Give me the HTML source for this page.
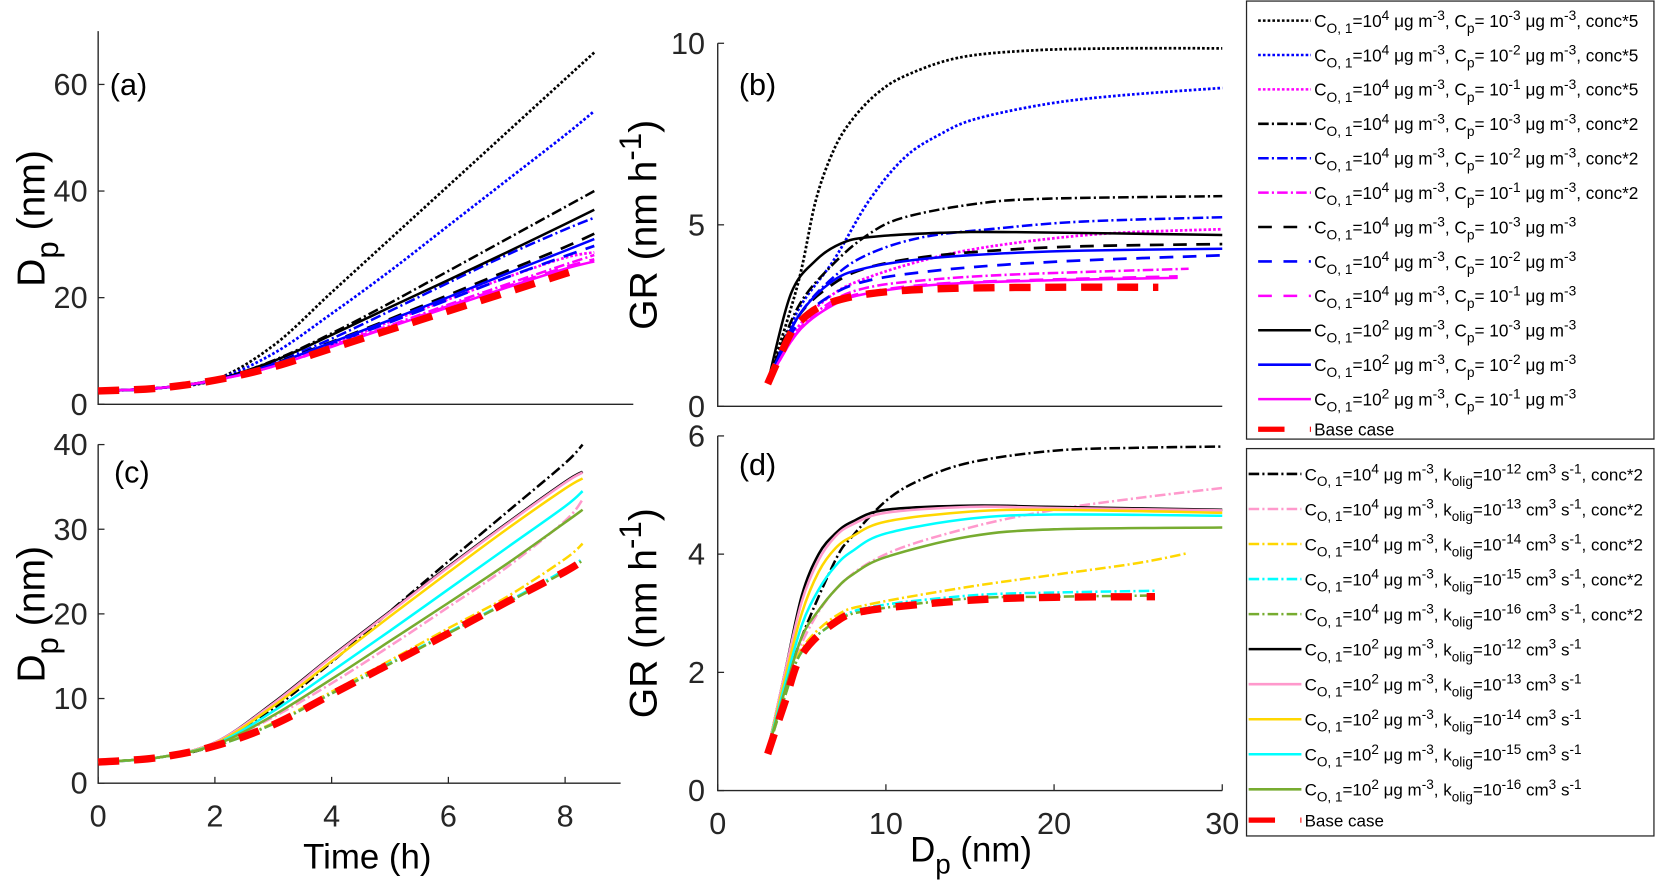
<!DOCTYPE html>
<html><head><meta charset="utf-8"><style>
html,body{margin:0;padding:0;background:#fff;}
svg{display:block;font-family:"Liberation Sans",sans-serif;}
</style></head><body>
<svg id="fig" width="1655" height="888" viewBox="0 0 1568 841.3" preserveAspectRatio="none" xmlns="http://www.w3.org/2000/svg"></svg>
<script>
// ---------- DATA ----------
// Panel (a): time (h) vs Dp (nm)
const tA = [0,1,2,3,4,5,6,7,8,8.5];
const aBlackDot = [2.5,3,4.6,11,21,31,41,51,61,66];
const aBlueDot = [2.5,3,4.6,9.5,17,25,33.5,42,50.5,55];
const aBlackDD = [2.5,3,4.5,8.2,13.3,19,25,31,37,40];
const aBlueDD = [2.5,3,4.5,7.8,12.3,17.5,22.8,28,32.8,35];
const aMagDot = [2.5,3,4.5,7.4,11.3,15.5,19.7,23.8,27.5,28.5];
const aBlackDash = [2.5,3,4.5,7.6,11.7,16,20.5,25,29.5,32];
const aBlueDash = [2.5,3,4.5,7.4,11.3,15.4,19.6,23.8,27.8,29.7];
const aMagDD = [2.5,3,4.5,7.2,11,14.8,18.7,22.5,26.2,28];
const aMagDash = [2.5,3,4.5,7.1,10.8,14.6,18.4,22.1,25.7,27.2];
const aBlackSol = [2.5,3,4.6,8.1,13,18.2,23.3,28.5,33.8,36.5];
const aBlueSol = [2.5,3,4.5,7.5,11.6,15.8,20.1,24.5,28.8,31];
const aMagSol = [2.5,3,4.5,7.1,10.8,14.5,18.2,21.9,25.4,26.8];
const tBase = [0,1,2,3,4,5,6,7,8,8.3];
const aBase = [2.5,3,4.5,7,10.5,14,17.5,21,24.5,25.5];

// Panel (b): Dp (nm) vs GR (nm/h)
const bBlackDotX=[3,4.77,5.83,6.89,7.95,9.43,11.13,14.3,18.55,23.85,30];
const bBlackDotY=[0.7,3.38,5.67,7.05,7.87,8.6,9.1,9.6,9.8,9.86,9.86];
const bBlueDotX=[3,4.77,6.89,9,11.13,13.25,15.37,19.6,23.85,30];
const bBlueDotY=[0.7,2.64,4.02,5.67,6.86,7.5,7.92,8.33,8.56,8.77];
const bBlackDDX=[3,4.77,6.89,9,11.13,15.37,19.6,30];
const bBlackDDY=[0.7,2.73,3.93,4.75,5.21,5.58,5.72,5.79];
const bBlackSolX=[3,4.35,5.83,7.31,9,13.25,17.5,30];
const bBlackSolY=[0.7,3.1,4.02,4.48,4.66,4.78,4.8,4.72];
const bBlueDDX=[3,4.77,6.89,9,12.2,16.4,21.7,30];
const bBlueDDY=[0.7,2.46,3.56,4.2,4.66,4.89,5.09,5.21];
const bMagDotX=[3,4.77,6.89,9,12.2,15.37,19.6,23.85,30];
const bMagDotY=[0.7,2.18,3.1,3.56,4.02,4.34,4.61,4.78,4.88];
const bBlackDashX=[3,4.77,6.89,9,12.2,16.4,21.7,30];
const bBlackDashY=[0.7,2.46,3.38,3.83,4.11,4.29,4.41,4.47];
const bBlueSolX=[3,4.77,6.89,9,12.2,16.4,21.7,30];
const bBlueSolY=[0.7,2.46,3.47,3.83,4.06,4.2,4.29,4.34];
const bBlueDashX=[3,4.77,6.89,9,12.2,16.4,21.7,30];
const bBlueDashY=[0.7,2.28,3.1,3.47,3.7,3.88,4.02,4.16];
const bMagDDX=[3,4.77,6.89,9,12.2,17.5,28];
const bMagDDY=[0.7,2.09,2.92,3.28,3.47,3.63,3.79];
const bMagDashX=[3,4.77,6.89,9,13.25,19.6,27.35];
const bMagDashY=[0.7,2.05,2.83,3.15,3.38,3.49,3.58];
const bMagSolX=[3,4.77,6.89,9,13.25,19.6,27.35];
const bMagSolY=[0.7,2.05,2.8,3.12,3.36,3.47,3.54];
const bBaseX=[2.97,4.13,4.77,6.25,9,13.25,19.6,26.2];
const bBaseY=[0.62,1.82,2.28,2.78,3.1,3.24,3.28,3.28];

// Panel (c): time (h) vs Dp (nm)
const tC=[0,1,2,3,4,5,6,7,8,8.3];
const cBlackDD=[2.5,3,4.5,8.8,14.3,20.3,26.2,32,37.8,40];
const cPinkDD=[2.5,3,4.5,7.8,11.8,16.2,20.8,25.5,31,33.5];
const cYellowDD=[2.5,3,4.4,7.1,10.8,14.5,18.3,22,26.5,28.3];
const cCyanDD=[2.5,3,4.4,7,10.6,14.2,17.8,21.4,25.2,26.5];
const cGreenDD=[2.5,3,4.4,7,10.6,14.1,17.7,21.3,25,26.3];
const cBlackSol=[2.5,3,4.8,9.5,15,20.3,25.6,30.7,35.6,36.8];
const cPinkSol=[2.5,3,4.8,9.4,14.9,20.2,25.5,30.6,35.5,36.7];
const cYellowSol=[2.5,3,4.7,9.1,14.4,19.7,24.9,30,34.8,36];
const cCyanSol=[2.5,3,4.6,8.5,13.2,18,22.9,27.8,32.7,34.5];
const cGreenSol=[2.5,3,4.5,8.0,12.3,16.8,21.3,25.9,30.8,32.3];
const cBase=[2.5,3,4.4,6.9,10.5,14.1,17.7,21.4,25,26.3];

// Panel (d): Dp vs GR
const dBlackDDX=[3,4,5,7,8,10,12,15,20,25,30];
const dBlackDDY=[0.7,1.7,2.6,3.9,4.3,4.9,5.25,5.55,5.75,5.8,5.82];
const dPinkDDX=[3,4,5,7,10,15,20,25,30];
const dPinkDDY=[0.7,1.6,2.5,3.4,4.0,4.45,4.75,4.95,5.12];
const dYellowDDX=[3,4,5,7,9,15,20,25,28];
const dYellowDDY=[0.7,1.6,2.4,2.95,3.15,3.45,3.65,3.85,4.02];
const dCyanDDX=[3,4,5,7,9,15,20,26];
const dCyanDDY=[0.7,1.6,2.35,2.85,3.1,3.3,3.35,3.38];
const dGreenDDX=[3,4,5,7,9,15,20,26];
const dGreenDDY=[0.7,1.6,2.35,2.85,3.05,3.25,3.28,3.3];
const dBlackSolX=[3,4,5,6,7,8,10,15,20,30];
const dBlackSolY=[0.7,2.0,3.3,4.0,4.35,4.55,4.75,4.82,4.8,4.75];
const dPinkSolX=[3,4,5,6,7,8,10,15,20,30];
const dPinkSolY=[0.7,2.0,3.2,3.9,4.3,4.5,4.7,4.8,4.78,4.74];
const dYellowSolX=[3,4,5,6,7,8,10,15,20,30];
const dYellowSolY=[0.7,1.9,3.0,3.7,4.1,4.3,4.55,4.72,4.75,4.7];
const dCyanSolX=[3,4,5,6,7,8,10,15,20,30];
const dCyanSolY=[0.7,1.8,2.8,3.4,3.8,4.05,4.35,4.6,4.67,4.65];
const dGreenSolX=[3,4,5,6,7,8,10,15,20,30];
const dGreenSolY=[0.7,1.7,2.6,3.05,3.4,3.65,3.95,4.3,4.42,4.45];
const dBaseX=[2.97,4,5,7,9,15,20,26];
const dBaseY=[0.62,1.5,2.3,2.85,3.05,3.22,3.27,3.28];

const aTicks=[0,20,40,60], bTicks=[0,5,10], cTicksY=[0,10,20,30,40], cTicksX=[0,2,4,6,8], dTicksY=[0,2,4,6], dTicksX=[0,10,20,30];

// ---------- DRAW ----------
const NS='http://www.w3.org/2000/svg';
const svg=document.getElementById('fig');
function el(tag,attrs,parent){const e=document.createElementNS(NS,tag);for(const k in attrs)e.setAttribute(k,attrs[k]);(parent||svg).appendChild(e);return e;}
function scale(d0,d1,p0,p1){return v=>p0+(v-d0)*(p1-p0)/(d1-d0);}
function smooth(pts){
  let d='M'+pts[0][0].toFixed(2)+','+pts[0][1].toFixed(2);
  for(let i=0;i<pts.length-1;i++){
    const p0=pts[Math.max(i-1,0)],p1=pts[i],p2=pts[i+1],p3=pts[Math.min(i+2,pts.length-1)];
    const c1=[p1[0]+(p2[0]-p0[0])/6,p1[1]+(p2[1]-p0[1])/6];
    const c2=[p2[0]-(p3[0]-p1[0])/6,p2[1]-(p3[1]-p1[1])/6];
    d+=' C'+c1[0].toFixed(2)+','+c1[1].toFixed(2)+' '+c2[0].toFixed(2)+','+c2[1].toFixed(2)+' '+p2[0].toFixed(2)+','+p2[1].toFixed(2);
  }
  return d;
}
const STY={
 dot:{w:2.6,da:'2.5,2'}, dd:{w:2.4,da:'10,3,2,3'}, dash:{w:2.6,da:'13,9'}, sol:{w:2.4,da:''}, base:{w:7,da:'20,14'}
};
function series(g,xs,ys,sx,sy,color,sty,name){
  const pts=xs.map((x,i)=>[sx(x),sy(ys[i])]);
  const p=el('path',{d:smooth(pts),fill:'none',stroke:color,'stroke-width':STY[sty].w,'stroke-dasharray':STY[sty].da},g);
  
  
}
function axes(g,x0,x1,y0,y1,yt,sy,xt,sx,ylabRight,xlabY,nameP){
  const ax=el('path',{d:`M${x0},${y1} L${x0},${y0} L${x1},${y0}`,fill:'none',stroke:'#262626','stroke-width':1.3},g);
  
  
  yt.forEach(v=>{
    el('line',{x1:x0,x2:x0+6,y1:sy(v),y2:sy(v),stroke:'#262626','stroke-width':1.2},g);
    const t=el('text',{x:ylabRight,y:sy(v)+10,'text-anchor':'end','font-size':29,fill:'#262626'},g);
    t.textContent=v;
    
    
  });
  if(xt){xt.forEach(v=>{
    el('line',{x1:sx(v),x2:sx(v),y1:y0,y2:y0-6,stroke:'#262626','stroke-width':1.2},g);
    const t=el('text',{x:sx(v),y:xlabY,'text-anchor':'middle','font-size':29,fill:'#262626'},g);
    t.textContent=v;
    
    
  });}
}
// Panel a
const gA=el('g',{});
const axA=scale(0,1,93,148.3), ayA=scale(0,20,383,282);
axes(gA,93,600,383,29.5,aTicks,ayA,null,null,83,0,'panel-a');
[[tA,aBlackDot,'#000','dot'],[tA,aBlueDot,'#00f','dot'],[tA,aBlackDD,'#000','dd'],[tA,aBlueDD,'#00f','dd'],[tA,aMagDot,'#f0f','dot'],[tA,aBlackDash,'#000','dash'],[tA,aBlueDash,'#00f','dash'],[tA,aMagDD,'#f0f','dd'],[tA,aMagDash,'#f0f','dash'],[tA,aBlackSol,'#000','sol'],[tA,aBlueSol,'#00f','sol'],[tA,aMagSol,'#f0f','sol'],[tBase,aBase,'#f00','base']]
.forEach((s,i)=>series(gA,s[0],s[1],axA,ayA,s[2],s[3],'a-series-'+i));
// Panel b
const gB=el('g',{});
const axB=scale(0,30,680,1158), ayB=scale(0,10,385,41);
axes(gB,680,1158,385,41,bTicks,ayB,null,null,668,0,'panel-b');
[[bBlackDotX,bBlackDotY,'#000','dot'],[bBlueDotX,bBlueDotY,'#00f','dot'],[bMagDotX,bMagDotY,'#f0f','dot'],[bBlackDDX,bBlackDDY,'#000','dd'],[bBlueDDX,bBlueDDY,'#00f','dd'],[bMagDDX,bMagDDY,'#f0f','dd'],[bBlackDashX,bBlackDashY,'#000','dash'],[bBlueDashX,bBlueDashY,'#00f','dash'],[bMagDashX,bMagDashY,'#f0f','dash'],[bBlackSolX,bBlackSolY,'#000','sol'],[bBlueSolX,bBlueSolY,'#00f','sol'],[bMagSolX,bMagSolY,'#f0f','sol'],[bBaseX,bBaseY,'#f00','base']]
.forEach((s,i)=>series(gB,s[0],s[1],axB,ayB,s[2],s[3],'b-series-'+i));
// Panel c
const gC=el('g',{});
const axC=scale(0,1,93,148.3), ayC=scale(0,10,742,661.8);
axes(gC,93,588,742,421,cTicksY,ayC,cTicksX,axC,83,783,'panel-c');
const PINK='#ff99cc',YEL='#ffd700',CY='#00ffff',GR='#77ac30';
[[cBlackDD,'#000','dd'],[cPinkDD,PINK,'dd'],[cYellowDD,YEL,'dd'],[cCyanDD,CY,'dd'],[cGreenDD,GR,'dd'],[cBlackSol,'#000','sol'],[cPinkSol,PINK,'sol'],[cYellowSol,YEL,'sol'],[cCyanSol,CY,'sol'],[cGreenSol,GR,'sol'],[cBase,'#f00','base']]
.forEach((s,i)=>series(gC,tC,s[0],axC,ayC,s[1],s[2],'c-series-'+i));
// Panel d
const gD=el('g',{});
const axD=scale(0,30,680,1158), ayD=scale(0,6,749,413);
axes(gD,680,1158,749,413,dTicksY,ayD,dTicksX,axD,668,790,'panel-d');
[[dBlackDDX,dBlackDDY,'#000','dd'],[dPinkDDX,dPinkDDY,PINK,'dd'],[dYellowDDX,dYellowDDY,YEL,'dd'],[dCyanDDX,dCyanDDY,CY,'dd'],[dGreenDDX,dGreenDDY,GR,'dd'],[dBlackSolX,dBlackSolY,'#000','sol'],[dPinkSolX,dPinkSolY,PINK,'sol'],[dYellowSolX,dYellowSolY,YEL,'sol'],[dCyanSolX,dCyanSolY,CY,'sol'],[dGreenSolX,dGreenSolY,GR,'sol'],[dBaseX,dBaseY,'#f00','base']]
.forEach((s,i)=>series(gD,s[0],s[1],axD,ayD,s[2],s[3],'d-series-'+i));

// rich text: _{sub} ^{sup}
function rich(parent,x,y,str,size,anchor,name,rot){
  const t=el('text',{x:x,y:y,'font-size':size,fill:'#000','text-anchor':anchor||'start'},parent);
  if(rot)t.setAttribute('transform',rot);
  
  
  const re=/([_^])\{([^}]*)\}|([^_^]+)/g;let m,shift=0;
  while((m=re.exec(str))){
    const ts=el('tspan',{},t);
    if(m[1]){const dy=m[1]==='_'?size*0.35:-size*0.4;ts.setAttribute('dy',dy-shift);shift=dy;ts.setAttribute('font-size',size*0.8);ts.textContent=m[2];}
    else{ts.setAttribute('dy',-shift);shift=0;ts.textContent=m[3];}
  }
  return t;
}
// panel letters & axis labels
rich(svg,104,90,'(a)',29,'start','panel-a-label');
rich(svg,700,90,'(b)',29,'start','panel-b-label');
rich(svg,108,457,'(c)',29,'start','panel-c-label');
rich(svg,700,450,'(d)',29,'start','panel-d-label');
rich(svg,0,0,'D_{p} (nm)',37,'middle','panel-a-y-title','translate(42,207) rotate(-90)');
rich(svg,0,0,'D_{p} (nm)',37,'middle','panel-c-y-title','translate(42,582) rotate(-90)');
rich(svg,0,0,'GR (nm h^{-1})',37,'middle','panel-b-y-title','translate(622,213) rotate(-90)');
rich(svg,0,0,'GR (nm h^{-1})',37,'middle','panel-d-y-title','translate(622,581) rotate(-90)');
rich(svg,348,823,'Time (h)',33,'middle','x-axis-title-time');
rich(svg,920,816,'D_{p} (nm)',33,'middle','x-axis-title-dp');

// legends
const leg1Labels=[
 'C_{O, 1}=10^{4} μg m^{-3}, C_{p}= 10^{-3} μg m^{-3}, conc*5',
 'C_{O, 1}=10^{4} μg m^{-3}, C_{p}= 10^{-2} μg m^{-3}, conc*5',
 'C_{O, 1}=10^{4} μg m^{-3}, C_{p}= 10^{-1} μg m^{-3}, conc*5',
 'C_{O, 1}=10^{4} μg m^{-3}, C_{p}= 10^{-3} μg m^{-3}, conc*2',
 'C_{O, 1}=10^{4} μg m^{-3}, C_{p}= 10^{-2} μg m^{-3}, conc*2',
 'C_{O, 1}=10^{4} μg m^{-3}, C_{p}= 10^{-1} μg m^{-3}, conc*2',
 'C_{O, 1}=10^{4} μg m^{-3}, C_{p}= 10^{-3} μg m^{-3}',
 'C_{O, 1}=10^{4} μg m^{-3}, C_{p}= 10^{-2} μg m^{-3}',
 'C_{O, 1}=10^{4} μg m^{-3}, C_{p}= 10^{-1} μg m^{-3}',
 'C_{O, 1}=10^{2} μg m^{-3}, C_{p}= 10^{-3} μg m^{-3}',
 'C_{O, 1}=10^{2} μg m^{-3}, C_{p}= 10^{-2} μg m^{-3}',
 'C_{O, 1}=10^{2} μg m^{-3}, C_{p}= 10^{-1} μg m^{-3}',
 'Base case'];
const leg1Styles=[['#000','dot'],['#00f','dot'],['#f0f','dot'],['#000','dd'],['#00f','dd'],['#f0f','dd'],['#000','dash'],['#00f','dash'],['#f0f','dash'],['#000','sol'],['#00f','sol'],['#f0f','sol'],['#f00','base']];
const leg2Labels=[
 'C_{O, 1}=10^{4} μg m^{-3}, k_{olig}=10^{-12} cm^{3} s^{-1}, conc*2',
 'C_{O, 1}=10^{4} μg m^{-3}, k_{olig}=10^{-13} cm^{3} s^{-1}, conc*2',
 'C_{O, 1}=10^{4} μg m^{-3}, k_{olig}=10^{-14} cm^{3} s^{-1}, conc*2',
 'C_{O, 1}=10^{4} μg m^{-3}, k_{olig}=10^{-15} cm^{3} s^{-1}, conc*2',
 'C_{O, 1}=10^{4} μg m^{-3}, k_{olig}=10^{-16} cm^{3} s^{-1}, conc*2',
 'C_{O, 1}=10^{2} μg m^{-3},  k_{olig}=10^{-12} cm^{3} s^{-1}',
 'C_{O, 1}=10^{2} μg m^{-3},  k_{olig}=10^{-13} cm^{3} s^{-1}',
 'C_{O, 1}=10^{2} μg m^{-3},  k_{olig}=10^{-14} cm^{3} s^{-1}',
 'C_{O, 1}=10^{2} μg m^{-3},  k_{olig}=10^{-15} cm^{3} s^{-1}',
 'C_{O, 1}=10^{2} μg m^{-3},  k_{olig}=10^{-16} cm^{3} s^{-1}',
 'Base case'];
const leg2Styles=[['#000','dd'],[PINK,'dd'],[YEL,'dd'],[CY,'dd'],[GR,'dd'],['#000','sol'],[PINK,'sol'],[YEL,'sol'],[CY,'sol'],[GR,'sol'],['#f00','base']];
function legend(x,y,w,h,labels,styles,y0,dy,lx0,lx1,tx,name,fs){
  const g=el('g',{});
  el('rect',{x:x,y:y,width:w,height:h,fill:'#fff',stroke:'#262626','stroke-width':1.2},g);
  labels.forEach((lab,i)=>{
    const yy=y0+i*dy - (i===labels.length-1?4:0);
    const st=STY[styles[i][1]];
    const ln=el('line',{x1:lx0,x2:lx1,y1:yy,y2:yy,stroke:styles[i][0],'stroke-width':styles[i][1]==='base'?5:2.4,'stroke-dasharray':styles[i][1]==='base'?'25,24':(styles[i][1]==='dash'?'13,11':st.da)},g);
    
    
    rich(g,tx,yy+6,lab,fs,'start',name+'-entry-'+i);
  });
}
legend(1181,1,386,415,leg1Labels,leg1Styles,19.5,32.6,1192,1242,1245,'legend-top',16.3);
legend(1181,425,386,367,leg2Labels,leg2Styles,449,33.2,1183,1233,1236,'legend-bottom',16.1);
</script>
</body></html>
